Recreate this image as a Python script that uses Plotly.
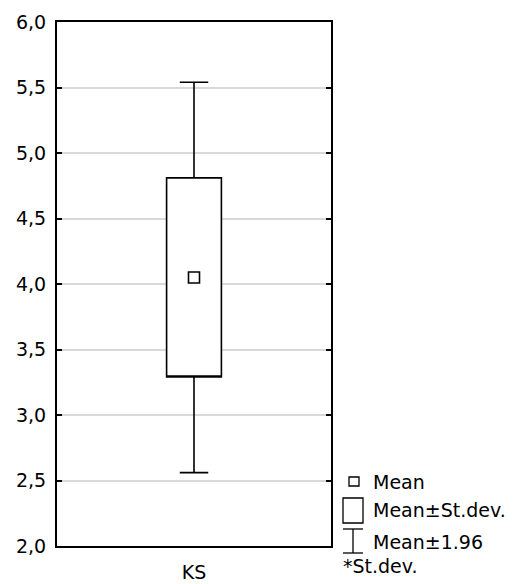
import plotly.graph_objects as go

categories = ["KS"]
means = [4.05]
sds = [0.76]
k = 1.96
y_ticks = [2.0, 2.5, 3.0, 3.5, 4.0, 4.5, 5.0, 5.5, 6.0]
legend_labels = ["Mean", "Mean±St.dev.", "Mean±1.96", "*St.dev."]

W, H = 513, 584
L, R, T, B = 57, 182, 22, 38
PW, PH = W - L - R, H - T - B
FONT = "DejaVu Sans"
FS = 19


def px(x):
    return (x - L) / PW


def py(y):
    return (H - B - y) / PH


q1 = [m - s for m, s in zip(means, sds)]
q3 = [m + s for m, s in zip(means, sds)]
lo = [m - k * s for m, s in zip(means, sds)]
hi = [m + k * s for m, s in zip(means, sds)]

fig = go.Figure()
fig.add_trace(go.Box(
    x=categories, q1=q1, median=q1, q3=q3, lowerfence=lo, upperfence=hi,
    width=0.2, whiskerwidth=0.52, fillcolor="white",
    line=dict(color="black", width=1.6), hoverinfo="skip", showlegend=False,
))
fig.add_trace(go.Scatter(
    x=categories, y=means, mode="markers",
    marker=dict(symbol="square", size=11, color="white", line=dict(color="black", width=1.6)),
    hoverinfo="skip", showlegend=False,
))

shapes = []
lc = dict(color="black", width=1.3)
# legend symbols
shapes.append(dict(type="rect", xref="paper", yref="paper", x0=px(349), x1=px(359), y0=py(486), y1=py(477), line=lc, fillcolor="white"))
shapes.append(dict(type="rect", xref="paper", yref="paper", x0=px(343), x1=px(363), y0=py(523), y1=py(498), line=lc, fillcolor="white"))
shapes.append(dict(type="line", xref="paper", yref="paper", x0=px(343), x1=px(363), y0=py(529), y1=py(529), line=lc))
shapes.append(dict(type="line", xref="paper", yref="paper", x0=px(343), x1=px(363), y0=py(553), y1=py(553), line=lc))
shapes.append(dict(type="line", xref="paper", yref="paper", x0=px(353), x1=px(353), y0=py(529), y1=py(553), line=lc))

annotations = []
ann_pos = [(371, 482), (371, 510), (371, 542), (341, 566)]
for (ax, ay), txt in zip(ann_pos, legend_labels):
    annotations.append(dict(text=txt, xref="paper", yref="paper", x=px(ax), y=py(ay),
                            xanchor="left", yanchor="middle", showarrow=False,
                            font=dict(family=FONT, size=FS, color="black")))

fig.update_layout(
    width=W, height=H, margin=dict(l=L, r=R, t=T, b=B, autoexpand=False),
    paper_bgcolor="white", plot_bgcolor="white",
    separators=",.",
    font=dict(family=FONT, size=FS, color="black"),
    shapes=shapes, annotations=annotations,
    xaxis=dict(type="category", range=[-0.5, 0.5], showline=True, mirror=True,
               linecolor="black", linewidth=2, ticks="", showgrid=False,
               automargin=False, ticklabelstandoff=8,
               tickfont=dict(family=FONT, size=FS, color="black")),
    yaxis=dict(range=[2.0, 6.0], tickvals=y_ticks, tickformat=".1f",
               showline=True, mirror="ticks", linecolor="black", linewidth=2,
               ticks="inside", ticklen=5, tickwidth=2, tickcolor="black",
               showgrid=True, gridcolor="#d9d9d9", gridwidth=1.5, zeroline=False,
               automargin=False, ticklabelstandoff=5,
               tickfont=dict(family=FONT, size=FS, color="black")),
)

fig.write_html("out.html", config={"displayModeBar": False},
               post_script="document.body.style.margin='0';document.body.style.overflow='hidden';")
